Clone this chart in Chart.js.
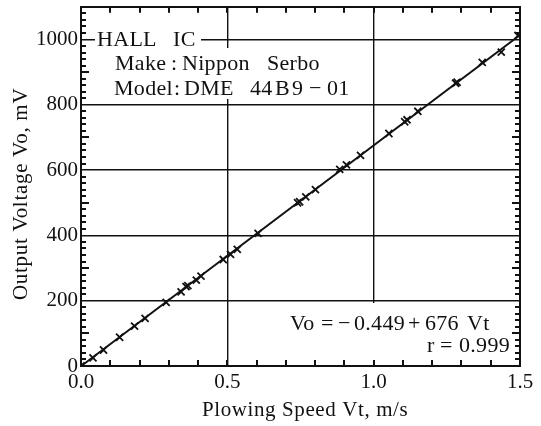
<!DOCTYPE html>
<html>
<head>
<meta charset="utf-8">
<script src="https://cdn.jsdelivr.net/npm/chart.js@4"></script>
<style>
  body { margin: 0; background: #fff; }
  #wrap { width: 541px; height: 426px; }
</style>
</head>
<body>
<div id="wrap"><canvas id="hallChart" width="541" height="426"></canvas></div>
<script>
// measured points: plowing speed (m/s) vs sensor output (mV)
const speed = [0, 0.041, 0.077, 0.132, 0.183, 0.219, 0.291, 0.342, 0.359, 0.365, 0.394, 0.41,
  0.486, 0.511, 0.534, 0.605, 0.74, 0.747, 0.768, 0.801, 0.884, 0.907, 0.955, 1.052,
  1.106, 1.114, 1.151, 1.28, 1.285, 1.371, 1.436, 1.493];
const voltage = [0, 25, 49, 88, 122, 146, 195, 227, 243, 246, 263, 275,
  326, 342, 357, 406, 500, 503, 518, 540, 602, 616, 645, 712,
  748, 754, 780, 866, 869, 930, 961, 1012];

// regression line Vo = a + b*Vt
const intercept = -0.449;
const slope = 676;
const fitRange = [0, 1.5];

const xTickValues = [0, 0.5, 1.0, 1.5];
const yTickValues = [0, 200, 400, 600, 800, 1000];

const INK = '#111';
const SERIF = '"Liberation Serif", "DejaVu Serif", serif';

const points = speed.map((v, i) => ({ x: v, y: voltage[i] }));
const fitLine = fitRange.map(v => ({ x: v, y: intercept + slope * v }));

// text runs set piece by piece: [text, left x]
const noteLines = [
  { y: 46, runs: [['HALL', 97], ['IC', 173]] },
  { y: 70, runs: [['Make', 115], [':', 171], ['Nippon', 182], ['Serbo', 267]] },
  { y: 95, runs: [['Model', 114], [':', 174], ['DME', 184], ['44', 250], ['B', 275], ['9', 292], ['\u2212', 309], ['01', 327]] },
  { y: 330, runs: [['Vo', 290], ['=', 321], ['\u2212', 338], ['0.449', 354], ['+', 408], ['676', 425], ['Vt', 467]] },
  { y: 352, runs: [['r', 427], ['=', 440], ['0.999', 459]] }
];

function drawText(ctx, text, x, y, size, spacing) {
  ctx.save();
  ctx.font = size + 'px ' + SERIF;
  ctx.letterSpacing = spacing + 'px';
  ctx.fillStyle = INK;
  ctx.textAlign = 'left';
  ctx.textBaseline = 'alphabetic';
  ctx.fillText(text, x, y);
  ctx.restore();
}

// inward minor ticks on all four sides of the plot box
function drawMinorTicks(chart) {
  const ctx = chart.ctx;
  const xs = chart.scales.x, ys = chart.scales.y;
  const area = chart.chartArea;
  ctx.save();
  ctx.fillStyle = INK;
  for (let i = 1; i < 15; i++) {
    const px = Math.round(xs.getPixelForValue(i / 10));
    ctx.fillRect(px - 1, area.bottom - 6, 2, 6);
    ctx.fillRect(px - 1, area.top, 2, 6);
  }
  for (let v = 20; v < 1100; v += 20) {
    if (v % 200 === 0) continue;
    const len = v % 100 === 0 ? 8 : 5;
    const py = Math.round(ys.getPixelForValue(v));
    ctx.fillRect(area.left, py - 1, len, 2);
    ctx.fillRect(area.right - len, py - 1, len, 2);
  }
  ctx.restore();
}

const decorations = {
  id: 'decorations',
  beforeDatasetsDraw(chart) {
    const ctx = chart.ctx;

    // white backing behind the text blocks
    ctx.save();
    ctx.fillStyle = '#fff';
    ctx.fillRect(95, 27, 106, 21);
    ctx.fillRect(112, 48, 234, 51);
    ctx.fillRect(285, 303, 233, 58);
    ctx.restore();

    // sensor notes and regression result
    noteLines.forEach(line => {
      line.runs.forEach(([t, x]) => drawText(ctx, t, x, line.y, 22, 0.3));
    });
  },
  afterDraw(chart) {
    const ctx = chart.ctx;
    drawMinorTicks(chart);

    // axis titles
    drawText(ctx, 'Plowing Speed Vt, m/s', 202, 416, 21, 0.6);
    ctx.save();
    ctx.translate(27, 300);
    ctx.rotate(-Math.PI / 2);
    drawText(ctx, 'Output Voltage Vo, mV', 0, 0, 21, 0.7);
    ctx.restore();
  }
};

const tickFont = { family: SERIF, size: 21 };

// keep the plot box where it is regardless of label overhang
function noOverhang(s) {
  s.paddingTop = 0;
  s.paddingBottom = 0;
  s.paddingLeft = 0;
  s.paddingRight = 0;
}

new Chart(document.getElementById('hallChart').getContext('2d'), {
  type: 'scatter',
  data: {
    datasets: [
      {
        label: 'measured',
        data: points,
        pointStyle: 'crossRot',
        pointRadius: 5,
        pointBorderWidth: 1.8,
        borderColor: INK,
        backgroundColor: INK,
        showLine: false
      },
      {
        label: 'fit',
        type: 'line',
        data: fitLine,
        borderColor: INK,
        borderWidth: 2,
        pointRadius: 0,
        fill: false
      }
    ]
  },
  options: {
    responsive: false,
    animation: false,
    devicePixelRatio: 1,
    layout: { padding: { left: 0, right: 21, top: 6, bottom: 0 } },
    plugins: { legend: { display: false }, tooltip: { enabled: false } },
    scales: {
      x: {
        type: 'linear', position: 'bottom', min: 0, max: 1.5,
        afterBuildTicks: s => { s.ticks = xTickValues.map(v => ({ value: v })); },
        afterFit: s => { s.height = 60; noOverhang(s); },
        grid: { color: INK, lineWidth: 1.4, drawTicks: false },
        border: { color: INK, width: 2 },
        ticks: { color: INK, font: tickFont, padding: 4, maxRotation: 0, autoSkip: false,
          callback: v => v.toFixed(1) }
      },
      x2: {
        type: 'linear', position: 'top', min: 0, max: 1.5,
        afterFit: s => { s.height = 0; noOverhang(s); },
        grid: { display: false, drawTicks: false },
        border: { color: INK, width: 2 },
        ticks: { display: false }
      },
      y: {
        type: 'linear', position: 'left', min: 0, max: 1100,
        afterBuildTicks: s => { s.ticks = yTickValues.map(v => ({ value: v })); },
        afterFit: s => { s.width = 81; noOverhang(s); },
        grid: { color: INK, lineWidth: 1.4, drawTicks: false },
        border: { color: INK, width: 2 },
        ticks: { color: INK, font: tickFont, padding: 3, callback: v => String(v) }
      },
      y2: {
        type: 'linear', position: 'right', min: 0, max: 1100,
        afterFit: s => { s.width = 0; noOverhang(s); },
        grid: { display: false, drawTicks: false },
        border: { color: INK, width: 2 },
        ticks: { display: false }
      }
    }
  },
  plugins: [decorations]
});
</script>
</body>
</html>
